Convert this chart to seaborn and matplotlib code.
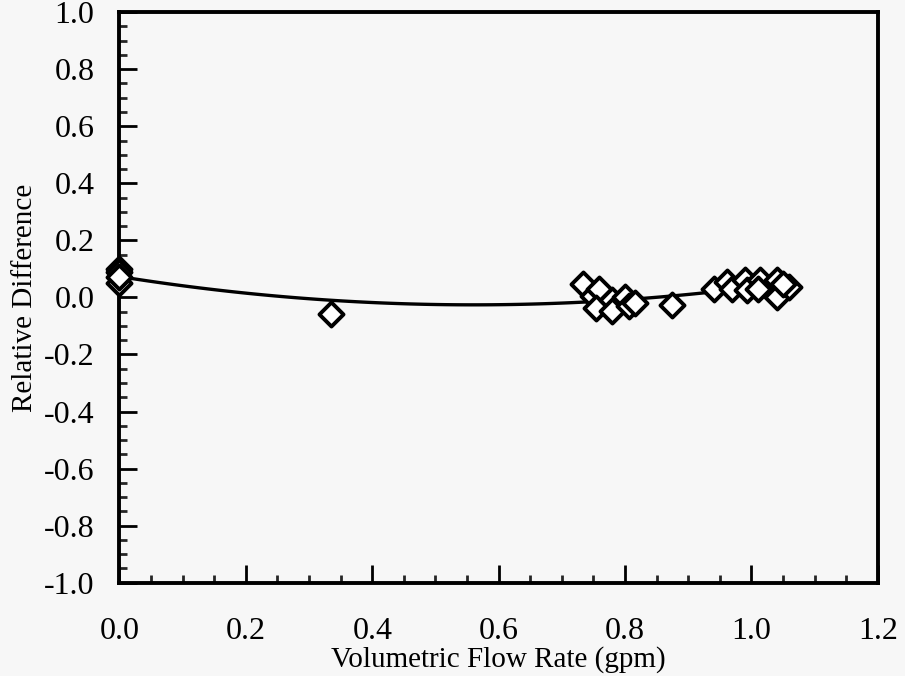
import numpy as np
import pandas as pd
import matplotlib
matplotlib.use("Agg")
import matplotlib.pyplot as plt
import seaborn as sns
from matplotlib.ticker import MultipleLocator

flow_rate = [0.0, 0.0, 0.0, 0.0, 0.335,
             0.733, 0.75, 0.758, 0.754, 0.78, 0.78, 0.80, 0.806, 0.816, 0.875,
             0.94, 0.962, 0.97, 0.99, 0.993, 1.014, 1.01, 1.04, 1.04, 1.06, 1.05]
rel_diff = [0.10, 0.09, 0.05, 0.07, -0.057,
            0.046, 0.004, 0.03, -0.036, -0.01, -0.046, 0.0, -0.03, -0.018, -0.025,
            0.03, 0.054, 0.03, 0.06, 0.025, 0.06, 0.03, 0.06, 0.0, 0.036, 0.046]
x_ticks = [0.0, 0.2, 0.4, 0.6, 0.8, 1.0, 1.2]
y_ticks = [-1.0, -0.8, -0.6, -0.4, -0.2, 0.0, 0.2, 0.4, 0.6, 0.8, 1.0]

df = pd.DataFrame({"x": flow_rate, "y": rel_diff})

sns.set_theme(style="ticks")
plt.rcParams["font.family"] = ["Liberation Serif", "DejaVu Serif"]

bg = "#f7f7f7"
fig = plt.figure(figsize=(9.05, 6.76), dpi=100, facecolor=bg)
ax = fig.add_axes([0.132, 0.138, 0.838, 0.844])
ax.set_facecolor(bg)

sns.regplot(data=df, x="x", y="y", order=2, ci=None, scatter=False, ax=ax,
            line_kws=dict(color="black", lw=2.4, zorder=2))
sns.scatterplot(data=df, x="x", y="y", marker="D", s=150, facecolor="white",
                edgecolor="black", linewidth=2.8, ax=ax, zorder=3, clip_on=False)

ax.set_xlim(0, 1.2)
ax.set_ylim(-1.0, 1.0)
ax.set_xticks(x_ticks)
ax.set_yticks(y_ticks)
ax.set_xticklabels([f"{v:.1f}" for v in x_ticks])
ax.set_yticklabels([f"{v:.1f}" for v in y_ticks])
ax.xaxis.set_minor_locator(MultipleLocator(0.05))
ax.yaxis.set_minor_locator(MultipleLocator(0.05))
ax.tick_params(axis="both", which="major", direction="in", length=13, width=2,
               labelsize=23, colors="black", top=False, right=False)
ax.tick_params(axis="x", which="major", pad=25)
ax.tick_params(axis="y", which="major", pad=18)
ax.tick_params(axis="both", which="minor", direction="in", length=6, width=2,
               top=False, right=False)
for sp in ax.spines.values():
    sp.set_linewidth(2.8)
    sp.set_color("black")
    sp.set_visible(True)

ax.set_xlabel("Volumetric Flow Rate (gpm)", fontsize=21, color="black", labelpad=0)
ax.set_ylabel("Relative Difference", fontsize=21, color="black", labelpad=4)

fig.savefig("out.png", dpi=100, facecolor=bg)
